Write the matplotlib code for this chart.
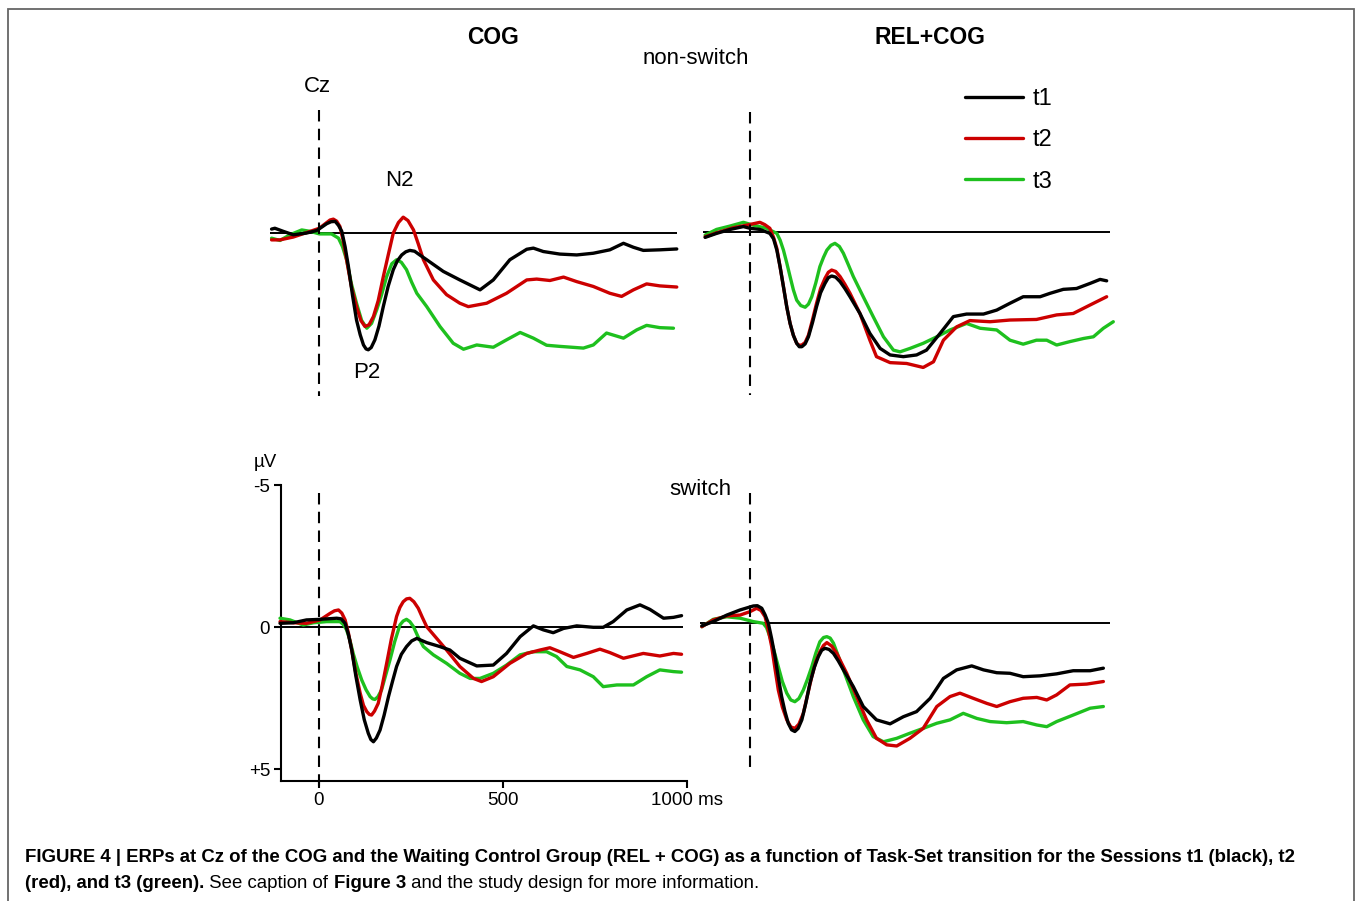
import matplotlib.pyplot as plt
from matplotlib.patches import Rectangle

plt.rcParams['font.family'] = ['Liberation Sans', 'DejaVu Sans']

W, H = 1357, 901
SX = 0.3677   # px per ms
SY = 28.4     # px per microvolt

sessions = ['t1', 't2', 't3']
colors = ['#000000', '#cc0000', '#1ec01e']

# ---- COG, non-switch ----
cog_ns_t1_ms = [-129, -120, -97, -70, -34, -6, 21, 33, 44, 53, 62, 71, 80, 91, 102, 112, 121, 128, 134, 142, 152, 163, 175, 188, 202, 213, 225, 236, 247, 260, 275, 293, 338, 383, 438, 474, 519, 565, 583, 610, 655, 701, 746, 791, 828, 855, 882, 927, 973]
cog_ns_t1_uv = [-0.12, -0.15, -0.04, 0.08, 0.02, -0.07, -0.31, -0.38, -0.39, -0.25, -0.04, 0.5, 1.2, 2.2, 3.08, 3.6, 3.96, 4.1, 4.13, 4.05, 3.78, 3.3, 2.6, 1.9, 1.31, 1.0, 0.79, 0.68, 0.63, 0.66, 0.8, 0.96, 1.37, 1.67, 2.02, 1.67, 0.96, 0.59, 0.55, 0.67, 0.76, 0.79, 0.73, 0.61, 0.38, 0.52, 0.63, 0.61, 0.58]
cog_ns_t2_ms = [-129, -106, -70, -24, 1, 21, 30, 39, 48, 57, 66, 75, 88, 102, 114, 125, 136, 148, 161, 175, 189, 202, 216, 229, 242, 257, 270, 284, 311, 347, 383, 406, 456, 510, 565, 592, 628, 665, 701, 746, 791, 823, 855, 891, 927, 973]
cog_ns_t2_uv = [0.26, 0.26, 0.16, -0.04, -0.15, -0.35, -0.44, -0.47, -0.4, -0.21, 0.3, 0.96, 1.9, 2.61, 3.1, 3.31, 3.25, 2.96, 2.4, 1.55, 0.75, 0.02, -0.35, -0.54, -0.42, -0.09, 0.4, 0.96, 1.67, 2.19, 2.49, 2.61, 2.49, 2.14, 1.67, 1.64, 1.69, 1.57, 1.73, 1.9, 2.14, 2.25, 2.02, 1.81, 1.88, 1.92]
cog_ns_t3_ms = [-129, -106, -79, -47, -24, 1, 34, 53, 64, 75, 88, 102, 116, 130, 143, 157, 170, 184, 198, 211, 224, 238, 252, 266, 293, 329, 365, 393, 429, 474, 510, 547, 583, 619, 655, 719, 746, 782, 828, 864, 891, 927, 964]
cog_ns_t3_uv = [0.2, 0.28, 0.08, -0.09, -0.04, 0.05, 0.05, 0.2, 0.5, 0.96, 1.8, 2.49, 3.1, 3.37, 3.2, 2.72, 2.2, 1.55, 1.1, 0.96, 1.05, 1.31, 1.75, 2.14, 2.61, 3.31, 3.9, 4.11, 3.96, 4.04, 3.78, 3.52, 3.72, 3.97, 4.01, 4.07, 3.96, 3.54, 3.72, 3.43, 3.27, 3.35, 3.37]

# ---- REL+COG, non-switch ----
rel_ns_t1_ms = [-122, -91, -54, -18, 0, 27, 54, 64, 73, 82, 91, 100, 109, 118, 127, 134, 141, 150, 159, 170, 181, 192, 204, 213, 222, 233, 245, 258, 272, 299, 326, 354, 381, 417, 453, 480, 517, 553, 589, 635, 671, 707, 743, 789, 816, 852, 888, 925, 952, 970]
rel_ns_t1_uv = [0.2, 0.06, -0.08, -0.18, -0.12, -0.08, 0.06, 0.25, 0.65, 1.25, 1.94, 2.65, 3.23, 3.65, 3.93, 4.05, 4.05, 3.95, 3.7, 3.2, 2.64, 2.15, 1.82, 1.62, 1.56, 1.6, 1.76, 2.0, 2.29, 2.88, 3.58, 4.11, 4.34, 4.4, 4.34, 4.17, 3.58, 2.99, 2.9, 2.9, 2.76, 2.52, 2.29, 2.29, 2.17, 2.03, 2.0, 1.82, 1.68, 1.73]
rel_ns_t2_ms = [-122, -91, -45, -9, 27, 40, 54, 64, 73, 82, 91, 100, 109, 118, 127, 134, 141, 150, 159, 170, 181, 192, 204, 213, 222, 233, 245, 258, 272, 299, 326, 344, 381, 426, 471, 499, 526, 562, 598, 653, 707, 779, 834, 879, 925, 970]
rel_ns_t2_uv = [0.18, 0.04, -0.14, -0.23, -0.33, -0.25, -0.12, 0.2, 0.59, 1.25, 1.94, 2.65, 3.23, 3.65, 3.93, 4.0, 3.99, 3.9, 3.64, 3.1, 2.52, 2.0, 1.64, 1.43, 1.35, 1.4, 1.58, 1.85, 2.17, 2.88, 3.82, 4.4, 4.61, 4.64, 4.78, 4.58, 3.82, 3.35, 3.13, 3.17, 3.11, 3.09, 2.93, 2.88, 2.58, 2.29]
rel_ns_t3_ms = [-122, -91, -54, -18, 9, 45, 73, 82, 91, 100, 109, 118, 127, 138, 150, 159, 168, 179, 190, 200, 209, 220, 231, 243, 254, 267, 281, 308, 335, 363, 390, 408, 435, 471, 508, 544, 589, 626, 671, 707, 743, 779, 807, 834, 870, 907, 934, 961, 988]
rel_ns_t3_uv = [0.12, -0.08, -0.2, -0.33, -0.23, -0.12, 0.06, 0.3, 0.65, 1.1, 1.58, 2.05, 2.41, 2.6, 2.66, 2.55, 2.29, 1.8, 1.23, 0.9, 0.65, 0.48, 0.41, 0.52, 0.76, 1.15, 1.58, 2.29, 2.99, 3.7, 4.17, 4.23, 4.11, 3.93, 3.7, 3.46, 3.23, 3.4, 3.46, 3.82, 3.96, 3.82, 3.82, 3.99, 3.87, 3.76, 3.7, 3.4, 3.17]

# ---- COG, switch ----
cog_sw_t1_ms = [-106, -70, -34, 3, 48, 60, 71, 80, 89, 100, 112, 123, 134, 141, 148, 156, 166, 177, 189, 200, 211, 224, 238, 252, 266, 293, 329, 356, 383, 429, 474, 510, 547, 583, 610, 637, 665, 701, 746, 773, 800, 837, 873, 900, 937, 964, 986]
cog_sw_t1_uv = [-0.14, -0.16, -0.26, -0.28, -0.32, -0.3, -0.14, 0.25, 0.8, 1.7, 2.56, 3.25, 3.73, 3.95, 4.03, 3.9, 3.62, 3.1, 2.44, 1.9, 1.38, 0.95, 0.68, 0.48, 0.39, 0.54, 0.68, 0.8, 1.09, 1.36, 1.33, 0.92, 0.33, -0.05, 0.09, 0.19, 0.04, -0.05, 0.0, 0.0, -0.2, -0.61, -0.79, -0.63, -0.32, -0.35, -0.41]
cog_sw_t2_ms = [-106, -70, -34, 3, 30, 42, 53, 62, 71, 80, 89, 100, 112, 121, 130, 137, 143, 151, 161, 172, 184, 197, 211, 220, 229, 238, 247, 258, 270, 281, 293, 320, 347, 383, 420, 442, 474, 519, 565, 601, 628, 655, 692, 728, 764, 791, 828, 882, 927, 964, 986]
cog_sw_t2_uv = [-0.2, -0.16, -0.14, -0.26, -0.49, -0.58, -0.61, -0.5, -0.26, 0.2, 0.8, 1.6, 2.32, 2.75, 2.97, 3.07, 3.09, 2.95, 2.68, 2.05, 1.27, 0.4, -0.38, -0.7, -0.9, -1.0, -1.02, -0.9, -0.67, -0.35, -0.02, 0.39, 0.8, 1.38, 1.8, 1.91, 1.74, 1.27, 0.92, 0.8, 0.72, 0.86, 1.06, 0.92, 0.77, 0.89, 1.09, 0.92, 1.01, 0.92, 0.95]
cog_sw_t3_ms = [-106, -79, -43, -15, 21, 57, 66, 75, 84, 93, 104, 116, 128, 139, 146, 152, 160, 170, 181, 193, 206, 220, 229, 238, 247, 257, 270, 284, 311, 347, 383, 411, 438, 474, 510, 547, 583, 619, 646, 674, 710, 746, 773, 810, 855, 891, 927, 964, 986]
cog_sw_t3_uv = [-0.32, -0.26, -0.08, -0.16, -0.2, -0.2, -0.1, 0.09, 0.45, 0.92, 1.4, 1.85, 2.2, 2.44, 2.52, 2.54, 2.45, 2.21, 1.7, 1.15, 0.5, -0.08, -0.22, -0.28, -0.2, -0.02, 0.35, 0.68, 0.97, 1.27, 1.62, 1.8, 1.8, 1.62, 1.33, 0.97, 0.86, 0.86, 1.03, 1.38, 1.5, 1.74, 2.09, 2.03, 2.03, 1.74, 1.5, 1.56, 1.58]

# ---- REL+COG, switch ----
rel_sw_t1_ms = [-131, -100, -63, -27, 9, 20, 32, 41, 50, 59, 68, 77, 86, 95, 104, 113, 122, 131, 141, 152, 163, 175, 186, 195, 204, 215, 227, 240, 254, 281, 308, 344, 381, 417, 453, 490, 526, 562, 603, 635, 671, 707, 743, 789, 834, 879, 925, 961]
rel_sw_t1_uv = [0.09, -0.06, -0.29, -0.47, -0.61, -0.62, -0.53, -0.3, 0.0, 0.55, 1.17, 1.9, 2.58, 3.1, 3.52, 3.75, 3.81, 3.7, 3.4, 2.8, 2.11, 1.55, 1.17, 0.95, 0.88, 0.92, 1.06, 1.32, 1.64, 2.23, 2.93, 3.4, 3.54, 3.29, 3.11, 2.64, 1.94, 1.64, 1.5, 1.64, 1.74, 1.76, 1.88, 1.85, 1.78, 1.67, 1.67, 1.58]
rel_sw_t2_ms = [-131, -100, -63, -27, 0, 18, 30, 41, 50, 59, 68, 77, 88, 100, 111, 122, 133, 145, 156, 168, 179, 190, 200, 209, 222, 236, 249, 263, 290, 317, 344, 372, 399, 435, 471, 508, 544, 571, 607, 644, 671, 707, 743, 780, 807, 834, 870, 916, 961]
rel_sw_t2_uv = [0.12, -0.12, -0.26, -0.29, -0.41, -0.53, -0.45, -0.23, 0.25, 0.82, 1.6, 2.35, 2.95, 3.4, 3.65, 3.7, 3.55, 3.17, 2.55, 1.88, 1.35, 1.0, 0.78, 0.68, 0.8, 1.06, 1.4, 1.76, 2.58, 3.4, 4.05, 4.28, 4.32, 4.05, 3.7, 2.93, 2.58, 2.46, 2.64, 2.82, 2.93, 2.76, 2.64, 2.61, 2.7, 2.52, 2.17, 2.14, 2.05]
rel_sw_t3_ms = [-131, -100, -63, -27, 9, 36, 45, 54, 65, 77, 88, 100, 111, 122, 133, 145, 156, 168, 179, 190, 200, 209, 218, 227, 240, 254, 281, 308, 335, 363, 399, 435, 471, 508, 544, 580, 617, 653, 698, 743, 780, 807, 834, 879, 925, 961]
rel_sw_t3_uv = [0.12, -0.14, -0.23, -0.18, -0.06, 0.0, 0.15, 0.47, 0.95, 1.53, 2.05, 2.46, 2.7, 2.76, 2.65, 2.35, 1.98, 1.53, 1.05, 0.65, 0.5, 0.47, 0.52, 0.7, 1.15, 1.64, 2.58, 3.4, 3.99, 4.17, 4.05, 3.87, 3.7, 3.52, 3.4, 3.17, 3.35, 3.46, 3.5, 3.46, 3.58, 3.64, 3.46, 3.23, 2.99, 2.93]

x_ticks = [0, 500, 1000]
x_ticklabels = ['0', '500', '1000 ms']
y_ticks = [-5, 0, 5]
y_ticklabels = ['-5', '0', '+5']

fig = plt.figure(figsize=(W / 100, H / 100), dpi=100)


def px_text(x, y, s, **kw):
    kw.setdefault('ha', 'center')
    kw.setdefault('va', 'center')
    return fig.text(x / W, 1 - y / H, s, **kw)


def add_panel(x0, y0, t_lo, t_hi, v_top, v_bot):
    # place an axes so that (0 ms, 0 uV) sits at pixel (x0, y0)
    left = x0 + t_lo * SX
    width = (t_hi - t_lo) * SX
    top = y0 + v_top * SY
    height = (v_bot - v_top) * SY
    ax = fig.add_axes([left / W, 1 - (top + height) / H, width / W, height / H])
    ax.set_xlim(t_lo, t_hi)
    ax.set_ylim(v_bot, v_top)   # negative up
    ax.patch.set_alpha(0)
    for sp in ax.spines.values():
        sp.set_visible(False)
    ax.set_xticks([])
    ax.set_yticks([])
    return ax


panels = [
    # x0, y0, t range, v range, zero-line span, dashed span, series
    (319, 232.5, (-140, 1000), (-4.5, 6.0), (-133, 974), (-4.3, 5.74),
     [(cog_ns_t1_ms, cog_ns_t1_uv), (cog_ns_t2_ms, cog_ns_t2_uv), (cog_ns_t3_ms, cog_ns_t3_uv)]),
    (750, 231.7, (-140, 1000), (-4.5, 6.0), (-128, 979), (-4.2, 5.74),
     [(rel_ns_t1_ms, rel_ns_t1_uv), (rel_ns_t2_ms, rel_ns_t2_uv), (rel_ns_t3_ms, rel_ns_t3_uv)]),
    (319, 627.3, (-103, 1010), (-5.2, 5.4), (-103, 990), (-4.73, 5.73),
     [(cog_sw_t1_ms, cog_sw_t1_uv), (cog_sw_t2_ms, cog_sw_t2_uv), (cog_sw_t3_ms, cog_sw_t3_uv)]),
    (750, 623.3, (-140, 1000), (-5.2, 5.4), (-136, 979), (-4.59, 5.3),
     [(rel_sw_t1_ms, rel_sw_t1_uv), (rel_sw_t2_ms, rel_sw_t2_uv), (rel_sw_t3_ms, rel_sw_t3_uv)]),
]

axes = []
for x0, y0, trange, vrange, zspan, dspan, series in panels:
    ax = add_panel(x0, y0, trange[0], trange[1], vrange[0], vrange[1])
    ax.hlines(0, zspan[0], zspan[1], color='k', lw=1.4, zorder=1)
    ax.vlines(0, dspan[0], dspan[1], color='k', lw=1.5,
              linestyles=(0, (5.5, 3.5)), clip_on=False, zorder=4)
    lines = []
    for (ms, uv), col, lab in zip(series[::-1], colors[::-1], sessions[::-1]):
        ln, = ax.plot(ms, uv, color=col, lw=2.4, solid_capstyle='round',
                      solid_joinstyle='round', clip_on=False, label=lab, zorder=3)
        lines.append(ln)
    axes.append((ax, lines[::-1]))

# axis on the bottom-left panel
ax_bl = axes[2][0]
ax_bl.spines['left'].set_visible(True)
ax_bl.spines['bottom'].set_visible(True)
for sp in ('left', 'bottom'):
    ax_bl.spines[sp].set_linewidth(1.5)
ax_bl.spines['left'].set_bounds(-5, 5.4)
ax_bl.spines['bottom'].set_bounds(-103, 1000)
ax_bl.set_xticks(x_ticks, x_ticklabels)
ax_bl.set_yticks(y_ticks, y_ticklabels)
ax_bl.tick_params(direction='out', length=5, width=1.5, labelsize=13.5, pad=3)

# legend
ax_tr, tr_lines = axes[1]
ax_tr.legend(tr_lines, sessions, loc='upper left',
             bbox_to_anchor=(965 / W, 1 - 88 / H), bbox_transform=fig.transFigure,
             frameon=False, fontsize=17, handlelength=2.46, handletextpad=0.42,
             labelspacing=0.82, borderpad=0, borderaxespad=0)

# panel labels
px_text(493, 37, 'COG', fontsize=16.5, fontweight='bold')
px_text(930, 37, 'REL+COG', fontsize=16.5, fontweight='bold')
px_text(696, 58, 'non-switch', fontsize=16)
px_text(700, 489, 'switch', fontsize=16)
px_text(317, 87, 'Cz', fontsize=16)
px_text(399, 181, 'N2', fontsize=16)
px_text(367, 373, 'P2', fontsize=16)
px_text(265, 462, 'µV', fontsize=13.5)

# frame around the figure
fig.add_artist(Rectangle((8 / W, -0.1), 1346 / W, 1.1 - 9 / H, transform=fig.transFigure,
                         fill=False, edgecolor='#666666', lw=1.3, clip_on=False))

# caption
cap_size = 13.4
line1 = ('FIGURE 4 | ERPs at Cz of the COG and the Waiting Control Group (REL + COG) as a function '
         'of Task-Set transition for the Sessions t1 (black), t2')
px_text(25, 858, line1, ha='left', fontsize=cap_size, fontweight='bold')
parts = [('(red), and t3 (green).', 'bold'), (' See caption of ', 'normal'),
         ('Figure 3', 'bold'), (' and the study design for more information.', 'normal')]
prev = px_text(25, 884, parts[0][0], ha='left', fontsize=cap_size, fontweight=parts[0][1])
for txt, wt in parts[1:]:
    prev = ax_bl.annotate(txt, xy=(1, 0), xycoords=prev, ha='left', va='bottom',
                          fontsize=cap_size, fontweight=wt, annotation_clip=False)

fig.savefig('out.png', dpi=100)
